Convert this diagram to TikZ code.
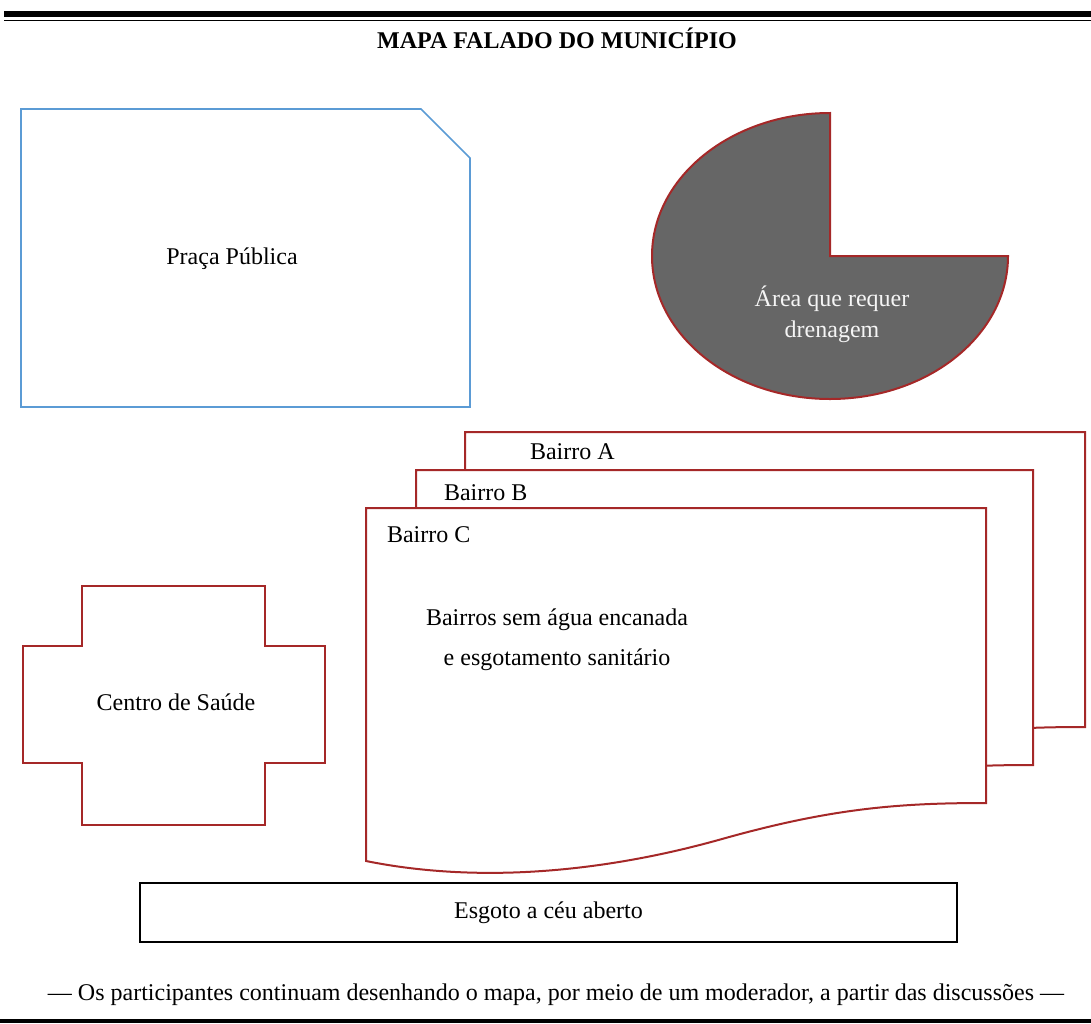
\documentclass[tikz,border=0pt]{standalone}
\usepackage{fontspec}
\setmainfont{Liberation Serif}
\usepackage{xcolor}
\usetikzlibrary{positioning}

\definecolor{borda}{RGB}{165,40,40}
\definecolor{azul}{RGB}{91,155,213}
\definecolor{cinza}{RGB}{102,102,102}

\begin{document}
\begin{tikzpicture}[
    x=0.5pt, y=-0.5pt,
    every node/.style={font=\fontsize{12pt}{14.5pt}\selectfont},
    praca/.style={draw=azul, line width=0.8pt},
    contorno/.style={draw=borda, line width=1pt, fill=white},
    esgoto/.style={rectangle, draw=black, line width=1.1pt, minimum width=408.5pt, minimum height=29.5pt},
    regua/.style={line width=#1, black}
]
\useasboundingbox (0,0) rectangle (1091,1023);

% Lines and title
\coordinate (t1) at (4,14);
\coordinate (t2) at (1091,14);
\coordinate (u1) at (4,20);
\coordinate (u2) at (1091,20);
\draw[regua=3pt] (t1) -- (t2);
\draw[regua=0.5pt] (u1) -- (u2);
\node[font=\fontsize{12pt}{14.5pt}\bfseries] (titulo) at (557,38) {MAPA FALADO DO MUNICÍPIO};

% Praca
\draw[praca] (21,109) -- (421,109) -- (470,158) -- (470,407) -- (21,407) -- cycle;
\node (txtpraca) at (232,259) {Praça Pública};

% Area de drenagem
\coordinate (centro) at (830,256);
\filldraw[contorno, fill=cinza] (centro) -- (830,113) arc[start angle=90, end angle=360, x radius=178, y radius=-143] -- cycle;
\node[text=gray!8, align=center, font=\fontsize{12pt}{15.5pt}\selectfont] (drenagem) at (832,314) {Área que requer\\drenagem};

% Bairros
\foreach \ox/\oy/\w/\lx/\ly/\nm in {465/432/620/58/20/A, 416/470/617/21/23/B, 366/508/620/14/27/C}{
  \begin{scope}[shift={(\ox,\oy)}]
    \draw[contorno, xscale=\w/620] (0,0) -- (620,0) -- (620,295) .. controls (534,295) and (466,300) .. (356,331)
      .. controls (246,362) and (119,377) .. (0,353) -- cycle;
    \node[anchor=west] (rotulo\nm) at (\lx,\ly) {Bairro \nm};
  \end{scope}
}
\node[align=center] (semagua) at (557,640) {Bairros sem água encanada\\[5.5pt]e esgotamento sanitário};

% Centro de Saude
\filldraw[contorno] (82,586) -- (265,586) -- (265,646) -- (325,646) -- (325,763) -- (265,763)
  -- (265,825) -- (82,825) -- (82,763) -- (23,763) -- (23,646) -- (82,646) -- cycle;
\node (saude) at (176,702) {Centro de Saúde};

% Esgoto
\node[esgoto] (esgoto) at (548.5,912.5) {Esgoto a céu aberto};

% Rodape
\node (rodape) at (556,995) {— Os participantes continuam desenhando o mapa, por meio de um moderador, a partir das discussões —};
\coordinate (b1) at (0,1021);
\coordinate (b2) at (1091,1021);
\draw[regua=2pt] (b1) -- (b2);

\end{tikzpicture}
\end{document}
